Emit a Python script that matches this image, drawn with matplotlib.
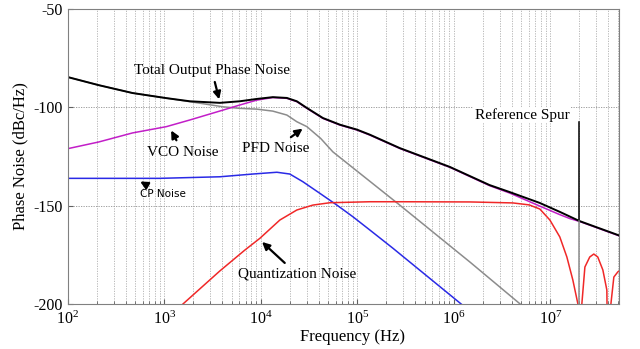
import matplotlib
matplotlib.use("Agg")
import matplotlib.pyplot as plt
from matplotlib.ticker import LogLocator, NullFormatter

plt.rcParams['font.family'] = ['Liberation Serif', 'DejaVu Serif']
plt.rcParams['mathtext.fontset'] = 'stix'
plt.rcParams['axes.unicode_minus'] = False

# values (frequency in Hz, noise in dBc/Hz)
total_f = [100, 209, 468, 1050, 1840, 3760, 6050, 9100, 13300, 18600, 23600,
           30000, 43900, 65900, 98900, 134900, 275000, 910000, 2.34e6, 3.8e6,
           7.76e6, 1.26e7, 2.0e7, 5.0e7, 5.13e7]
total_db = [-84.6, -88.7, -92.7, -95.3, -96.9, -97.7, -96.9, -95.7, -94.8, -95.2, -96.9,
            -100.3, -105.4, -108.8, -111.3, -113.9, -120.7, -130.3, -139.5, -143.1,
            -148.6, -153.2, -157.8, -164.9, -165.1]

vco_f = [100, 209, 468, 1050, 1840, 4040, 6050, 9100, 13300, 18600, 23600,
         30000, 43900, 65900, 98900, 134900, 275000, 910000, 2.34e6, 3.8e6,
         7.76e6, 1.26e7, 1.6e7, 2.0e7, 5.13e7]
vco_db = [-121.0, -117.6, -113.0, -109.8, -106.4, -101.4, -98.8, -96.3, -95.0, -95.4, -97.1,
          -100.5, -105.6, -109.0, -111.5, -114.1, -120.9, -130.5, -139.8, -143.6,
          -150.2, -154.6, -156.6, -158.0, -165.3]

pfd_f = [100, 209, 468, 1050, 1840, 4040, 6050, 9100, 13300, 18600, 23600,
         30000, 41700, 55700, 275000, 1.47e6, 5.0e6]
pfd_db = [-84.6, -88.7, -92.7, -95.3, -97.1, -99.7, -100.5, -100.9, -101.9, -103.9, -107.3,
          -109.8, -115.8, -122.6, -149.7, -178.7, -200.5]

cp_f = [100, 891, 3760, 8260, 14660, 19950, 27230, 40830, 61380, 89740, 134900,
        233000, 1.21e6]
cp_db = [-136.1, -136.1, -135.3, -133.9, -133.0, -133.9, -137.8, -143.7, -149.7, -155.6, -162.4,
         -171.6, -200.3]

quant_f = [1560, 3760, 6820, 9770, 15740, 23600, 34600, 51900, 134900, 275000,
           1.48e6, 4.08e6, 6.03e6, 7.78e6, 9.89e6, 1.253e7, 1.483e7, 1.71e7,
           1.93e7, 2.0e7, 2.12e7, 2.28e7, 2.56e7, 2.82e7, 3.10e7, 3.50e7,
           3.85e7, 4.0e7, 4.24e7, 4.55e7, 5.0e7, 5.13e7]
quant_db = [-200.0, -183.2, -172.6, -166.6, -157.3, -152.2, -149.7, -148.5, -148.0, -148.0,
            -148.1, -148.6, -149.6, -151.7, -157.3, -165.9, -176.1, -187.8,
            -200.0, -260.0, -200.0, -181.2, -176.1, -174.6, -176.1, -182.7,
            -192.9, -260.0, -200.0, -186.3, -183.7, -183.3]

spur_f = 2.0e7
spur_top = -107.3
spur_curve = -157.8

fig = plt.figure(figsize=(6.4, 3.49), dpi=100)
ax = fig.add_axes([0.106, 0.129, 0.861, 0.845])

ax.plot(pfd_f, pfd_db, color="#8c8c8c", lw=1.1)
ax.plot(cp_f, cp_db, color="#2a2ae6", lw=1.1)
ax.plot(quant_f, quant_db, color="#f02828", lw=1.1)
ax.plot(vco_f, vco_db, color="#c21ec8", lw=1.1)
ax.plot(total_f, total_db, color="black", lw=1.4)
ax.plot([spur_f, spur_f], [spur_top, spur_curve], color="black", lw=1.1)
ax.plot([spur_f, spur_f], [spur_curve, -200], color="#8c8c8c", lw=1.1)

ax.set_xscale("log")
ax.set_xlim(100, 5.13e7)
ax.set_ylim(-200, -50)
ax.set_yticks([-200, -150, -100, -50])
ax.xaxis.set_major_locator(LogLocator(base=10, numticks=12))
ax.xaxis.set_minor_locator(LogLocator(base=10, subs=range(2, 10), numticks=12))
ax.xaxis.set_minor_formatter(NullFormatter())
ax.tick_params(which="both", direction="in", labelsize=11.5, color="#606060")
ax.tick_params(axis="x", pad=5)
ax.grid(True, which="both", axis="x", ls=(0, (1.5, 1.5)), color="#b0b0b0", lw=0.6)
ax.grid(True, which="major", axis="y", ls=(0, (1.5, 1.5)), color="#909090", lw=0.6)
for s in ax.spines.values():
    s.set_color("#808080")

ax.set_xlabel("Frequency (Hz)", fontsize=12, labelpad=1)
ax.xaxis.set_label_coords(0.516, -0.085)
ax.set_ylabel("Phase Noise (dBc/Hz)", fontsize=12)

arrow = dict(arrowstyle="-|>", color="black", lw=1.6, mutation_scale=11)
ax.annotate("Total Output Phase Noise", xy=(3760, -97.3), xytext=(3100, -81),
            ha="center", va="center", fontsize=11, arrowprops=arrow)
ax.annotate("VCO Noise", xy=(1140, -110.5), xytext=(1550, -122.7),
            ha="center", va="center", fontsize=11, arrowprops=arrow)
ax.annotate("PFD Noise", xy=(28600, -110), xytext=(14300, -120.7),
            ha="center", va="center", fontsize=11, arrowprops=arrow)
ax.annotate("CP Noise", xy=(530, -137), xytext=(960, -144.1),
            ha="center", va="center", fontsize=7.5, family=["DejaVu Sans"],
            arrowprops=arrow)
ax.annotate("Quantization Noise", xy=(9800, -167.5), xytext=(23600, -184.8),
            ha="center", va="center", fontsize=11, arrowprops=arrow)
ax.text(5.07e6, -103.9, "Reference Spur", ha="center", va="center", fontsize=11,
        bbox=dict(facecolor="white", edgecolor="none", pad=1))

fig.savefig("out.png", dpi=100)
